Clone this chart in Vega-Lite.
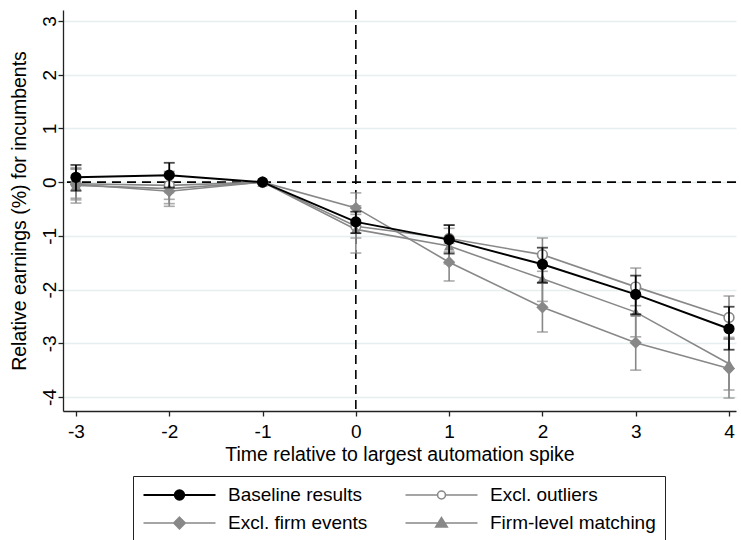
{
  "$schema": "https://vega.github.io/schema/vega-lite/v6.json",
  "width": 673,
  "height": 401,
  "autosize": {"type": "none"},
  "padding": {"left": 63, "top": 10, "right": 5, "bottom": 129},
  "background": "white",
  "config": {
    "font": "Liberation Sans",
    "view": {"stroke": null},
    "axis": {
      "labelFont": "Liberation Sans",
      "titleFont": "Liberation Sans",
      "labelFontSize": 19,
      "titleFontSize": 19.5,
      "titleFontWeight": "normal",
      "labelColor": "black",
      "titleColor": "black",
      "domainColor": "#222222",
      "tickColor": "#222222",
      "domainWidth": 1.3,
      "tickWidth": 1.3,
      "labelFlush": false,
      "labelOverlap": false,
      "labelBound": false
    },
    "axisX": {"grid": false},
    "legend": {
      "labelFont": "Liberation Sans",
      "labelFontSize": 19,
      "labelColor": "black",
      "labelLimit": 300
    }
  },
  "datasets": {
    "est": [
      {"series": "Baseline results", "t": -3, "b": 0.09, "lo": -0.16, "hi": 0.32},
      {"series": "Baseline results", "t": -2, "b": 0.13, "lo": -0.10, "hi": 0.36},
      {"series": "Baseline results", "t": -1, "b": 0.0, "lo": null, "hi": null},
      {"series": "Baseline results", "t": 0, "b": -0.74, "lo": -0.95, "hi": -0.55},
      {"series": "Baseline results", "t": 1, "b": -1.07, "lo": -1.33, "hi": -0.80},
      {"series": "Baseline results", "t": 2, "b": -1.53, "lo": -1.87, "hi": -1.22},
      {"series": "Baseline results", "t": 3, "b": -2.09, "lo": -2.46, "hi": -1.74},
      {"series": "Baseline results", "t": 4, "b": -2.73, "lo": -3.12, "hi": -2.32},
      {"series": "Excl. outliers", "t": -3, "b": -0.03, "lo": -0.30, "hi": 0.24},
      {"series": "Excl. outliers", "t": -2, "b": -0.06, "lo": -0.32, "hi": 0.20},
      {"series": "Excl. outliers", "t": -1, "b": 0.0, "lo": null, "hi": null},
      {"series": "Excl. outliers", "t": 0, "b": -0.82, "lo": -1.04, "hi": -0.60},
      {"series": "Excl. outliers", "t": 1, "b": -1.05, "lo": -1.30, "hi": -0.80},
      {"series": "Excl. outliers", "t": 2, "b": -1.35, "lo": -1.66, "hi": -1.04},
      {"series": "Excl. outliers", "t": 3, "b": -1.95, "lo": -2.30, "hi": -1.60},
      {"series": "Excl. outliers", "t": 4, "b": -2.52, "lo": -2.92, "hi": -2.12},
      {"series": "Excl. firm events", "t": -3, "b": -0.04, "lo": -0.33, "hi": 0.25},
      {"series": "Excl. firm events", "t": -2, "b": -0.17, "lo": -0.45, "hi": 0.11},
      {"series": "Excl. firm events", "t": -1, "b": 0.0, "lo": null, "hi": null},
      {"series": "Excl. firm events", "t": 0, "b": -0.48, "lo": -0.76, "hi": -0.20},
      {"series": "Excl. firm events", "t": 1, "b": -1.49, "lo": -1.84, "hi": -1.14},
      {"series": "Excl. firm events", "t": 2, "b": -2.33, "lo": -2.79, "hi": -1.88},
      {"series": "Excl. firm events", "t": 3, "b": -2.99, "lo": -3.50, "hi": -2.48},
      {"series": "Excl. firm events", "t": 4, "b": -3.47, "lo": -4.02, "hi": -2.92},
      {"series": "Firm-level matching", "t": -3, "b": -0.06, "lo": -0.39, "hi": 0.27},
      {"series": "Firm-level matching", "t": -2, "b": -0.12, "lo": -0.40, "hi": 0.16},
      {"series": "Firm-level matching", "t": -1, "b": 0.0, "lo": null, "hi": null},
      {"series": "Firm-level matching", "t": 0, "b": -0.88, "lo": -1.32, "hi": -0.44},
      {"series": "Firm-level matching", "t": 1, "b": -1.19, "lo": -1.52, "hi": -0.86},
      {"series": "Firm-level matching", "t": 2, "b": -1.80, "lo": -2.22, "hi": -1.38},
      {"series": "Firm-level matching", "t": 3, "b": -2.42, "lo": -2.88, "hi": -1.96},
      {"series": "Firm-level matching", "t": 4, "b": -3.38, "lo": -3.87, "hi": -2.89}
    ]
  },
  "data": {"name": "est"},
  "layer": [
    {
      "data": {"values": [{}]},
      "mark": {"type": "rule", "strokeDash": [9, 6], "strokeWidth": 1.6, "color": "black"},
      "encoding": {
        "x": {"datum": 0, "type": "quantitative", "scale": {"domain": [-3.139, 4.075], "nice": false, "zero": false}}
      }
    },
    {
      "data": {"values": [{}]},
      "mark": {"type": "rule", "strokeDash": [9, 6], "strokeWidth": 1.6, "color": "black"},
      "encoding": {
        "y": {"datum": 0, "type": "quantitative", "scale": {"domain": [-4.261, 3.205], "nice": false, "zero": false}}
      }
    },
    {
      "transform": [{"filter": "datum.series !== 'Baseline results' && datum.lo != null"}],
      "mark": {"type": "errorbar", "ticks": {"size": 11}, "thickness": 1.6, "color": "#888888"},
      "encoding": {
        "x": {"field": "t", "type": "quantitative", "title": "Time relative to largest automation spike", "scale": {"domain": [-3.139, 4.075], "nice": false, "zero": false}},
        "y": {"field": "lo", "type": "quantitative", "title": "Relative earnings (%) for incumbents", "scale": {"domain": [-4.261, 3.205], "nice": false, "zero": false}},
        "y2": {"field": "hi"}
      }
    },
    {
      "transform": [{"filter": "datum.series !== 'Baseline results'"}],
      "mark": {"type": "line", "strokeWidth": 1.6},
      "encoding": {
        "x": {"field": "t", "type": "quantitative", "title": "Time relative to largest automation spike", "scale": {"domain": [-3.139, 4.075], "nice": false, "zero": false}},
        "y": {"field": "b", "type": "quantitative", "title": "Relative earnings (%) for incumbents", "scale": {"domain": [-4.261, 3.205], "nice": false, "zero": false}},
        "color": {
          "field": "series",
          "type": "nominal",
          "scale": {
            "domain": ["Baseline results", "Excl. outliers", "Excl. firm events", "Firm-level matching"],
            "range": ["black", "#888888", "#888888", "#888888"]
          },
          "legend": {
            "title": null,
            "orient": "none",
            "direction": "horizontal",
            "legendX": 70,
            "legendY": 466,
            "columns": 2,
            "padding": 9,
            "strokeColor": "#222222",
            "fillColor": "white",
            "cornerRadius": 0,
            "symbolSize": 5184,
            "symbolStrokeWidth": 1.6,
            "symbolOffset": 28,
            "labelOffset": 39,
            "columnPadding": 36,
            "rowPadding": 8,
            "clipHeight": 20,
            "encode": {
              "symbols": {
                "update": {
                  "shape": {"signal": "datum.value === 'Baseline results' ? 'M-1,0H-0.13M0.13,0H1M0.13,0A0.13,0.13,0,1,1,-0.13,0A0.13,0.13,0,1,1,0.13,0Z' : datum.value === 'Excl. outliers' ? 'M-1,0H-0.11M0.11,0H1M0.11,0A0.11,0.11,0,1,1,-0.11,0A0.11,0.11,0,1,1,0.11,0Z' : datum.value === 'Excl. firm events' ? 'M-1,0H1M0,-0.16L0.16,0L0,0.16L-0.16,0Z' : 'M-1,0H1M0,-0.15L0.16,0.11L-0.16,0.11Z'"},
                  "fill": {"signal": "datum.value === 'Baseline results' ? 'black' : datum.value === 'Excl. outliers' ? 'white' : '#888888'"},
                  "stroke": {"signal": "datum.value === 'Baseline results' ? 'black' : '#888888'"},
                  "strokeWidth": {"signal": "datum.value === 'Baseline results' ? 2 : 1.6"},
                  "size": {"value": 5184},
                  "opacity": {"value": 1},
                  "fillOpacity": {"value": 1},
                  "strokeOpacity": {"value": 1}
                }
              }
            }
          }
        }
      }
    },
    {
      "transform": [{"filter": "datum.series === 'Excl. outliers'"}],
      "mark": {"type": "point", "shape": "circle", "filled": false, "fill": "white", "fillOpacity": 1, "stroke": "#888888", "strokeWidth": 1.6, "size": 95, "opacity": 1},
      "encoding": {
        "x": {"field": "t", "type": "quantitative", "title": "Time relative to largest automation spike", "scale": {"domain": [-3.139, 4.075], "nice": false, "zero": false}},
        "y": {"field": "b", "type": "quantitative", "title": "Relative earnings (%) for incumbents", "scale": {"domain": [-4.261, 3.205], "nice": false, "zero": false}}
      }
    },
    {
      "transform": [{"filter": "datum.series === 'Excl. firm events'"}],
      "mark": {"type": "point", "shape": "diamond", "filled": true, "color": "#888888", "size": 150, "opacity": 1},
      "encoding": {
        "x": {"field": "t", "type": "quantitative", "title": "Time relative to largest automation spike", "scale": {"domain": [-3.139, 4.075], "nice": false, "zero": false}},
        "y": {"field": "b", "type": "quantitative", "title": "Relative earnings (%) for incumbents", "scale": {"domain": [-4.261, 3.205], "nice": false, "zero": false}}
      }
    },
    {
      "transform": [{"filter": "datum.series === 'Firm-level matching'"}],
      "mark": {"type": "point", "shape": "triangle-up", "filled": true, "color": "#888888", "size": 110, "opacity": 1},
      "encoding": {
        "x": {"field": "t", "type": "quantitative", "title": "Time relative to largest automation spike", "scale": {"domain": [-3.139, 4.075], "nice": false, "zero": false}},
        "y": {"field": "b", "type": "quantitative", "title": "Relative earnings (%) for incumbents", "scale": {"domain": [-4.261, 3.205], "nice": false, "zero": false}}
      }
    },
    {
      "transform": [{"filter": "datum.series === 'Baseline results' && datum.lo != null"}],
      "mark": {"type": "errorbar", "ticks": {"size": 11}, "thickness": 1.8, "color": "black"},
      "encoding": {
        "x": {"field": "t", "type": "quantitative", "title": "Time relative to largest automation spike", "scale": {"domain": [-3.139, 4.075], "nice": false, "zero": false}},
        "y": {"field": "lo", "type": "quantitative", "title": "Relative earnings (%) for incumbents", "scale": {"domain": [-4.261, 3.205], "nice": false, "zero": false}},
        "y2": {"field": "hi"}
      }
    },
    {
      "transform": [{"filter": "datum.series === 'Baseline results'"}],
      "mark": {"type": "line", "strokeWidth": 2, "color": "black"},
      "encoding": {
        "x": {"field": "t", "type": "quantitative", "title": "Time relative to largest automation spike", "scale": {"domain": [-3.139, 4.075], "nice": false, "zero": false}},
        "y": {"field": "b", "type": "quantitative", "title": "Relative earnings (%) for incumbents", "scale": {"domain": [-4.261, 3.205], "nice": false, "zero": false}}
      }
    },
    {
      "transform": [{"filter": "datum.series === 'Baseline results'"}],
      "mark": {"type": "point", "shape": "circle", "filled": true, "color": "black", "size": 125, "opacity": 1},
      "encoding": {
        "x": {
          "field": "t",
          "type": "quantitative",
          "title": "Time relative to largest automation spike",
          "scale": {"domain": [-3.139, 4.075], "nice": false, "zero": false},
          "axis": {
            "values": [-3, -2, -1, 0, 1, 2, 3, 4],
            "labelExpr": "'' + datum.value",
            "title": "Time relative to largest automation spike",
            "grid": false,
            "tickSize": 5,
            "labelPadding": 21,
            "labelBaseline": "alphabetic",
            "labelAlign": "center",
            "titleY": 49,
            "titleBaseline": "alphabetic",
            "titleAlign": "center"
          }
        },
        "y": {
          "field": "b",
          "type": "quantitative",
          "title": "Relative earnings (%) for incumbents",
          "scale": {"domain": [-4.261, 3.205], "nice": false, "zero": false},
          "axis": {
            "values": [-4, -3, -2, -1, 0, 1, 2, 3],
            "labelExpr": "'' + datum.value",
            "labelAngle": 270,
            "labelAlign": "center",
            "labelBaseline": "alphabetic",
            "labelPadding": 3,
            "tickSize": 5,
            "grid": true,
            "gridColor": "#e6eef0",
            "gridWidth": 1.5,
            "title": "Relative earnings (%) for incumbents",
            "titleAngle": 270,
            "titleX": -38,
            "titleY": 200.5,
            "titleBaseline": "alphabetic",
            "titleAlign": "center"
          }
        }
      }
    }
  ]
}
